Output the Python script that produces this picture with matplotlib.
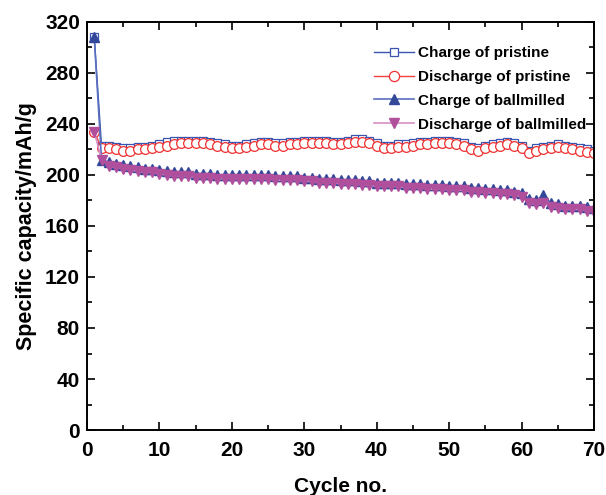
import numpy as np
import matplotlib
matplotlib.use('Agg')
import matplotlib.pyplot as plt
from matplotlib.ticker import MultipleLocator

plt.rcParams['font.family'] = ['Liberation Sans', 'DejaVu Sans']
plt.rcParams['font.weight'] = 'bold'

cycles = list(range(1, 71))

dis_pristine = [234, 221, 221, 220, 219, 219, 220, 220, 221, 222,
                223, 224, 225, 225, 225, 225, 224, 223, 222, 221,
                221, 222, 223, 224, 224, 223, 223, 224, 224, 225,
                225, 225, 225, 224, 224, 225, 226, 226, 225, 223,
                221, 221, 222, 222, 223, 224, 224, 225, 225, 225,
                224, 223, 220, 219, 221, 222, 223, 224, 223, 221,
                217, 219, 220, 221, 222, 221, 220, 219, 218, 217]

chg_pristine = [308, 223, 223, 222, 221, 221, 222, 222, 223, 224,
                226, 227, 227, 227, 227, 227, 226, 225, 224, 223,
                223, 224, 225, 226, 226, 225, 225, 226, 226, 227,
                227, 227, 227, 226, 226, 227, 228, 228, 227, 225,
                223, 223, 224, 224, 225, 226, 226, 227, 227, 227,
                226, 225, 222, 221, 223, 224, 225, 226, 225, 223,
                219, 221, 222, 223, 224, 223, 222, 221, 220, 219]

chg_ball = [308, 212, 210, 209, 208, 207, 206, 205, 205, 204,
            203, 202, 202, 202, 201, 201, 201, 200, 200, 200,
            200, 200, 200, 200, 200, 199, 199, 199, 199, 198,
            198, 197, 197, 197, 196, 196, 196, 195, 195, 194,
            194, 194, 194, 193, 193, 193, 192, 192, 192, 191,
            191, 191, 190, 190, 189, 189, 188, 188, 187, 186,
            181, 180, 184, 178, 177, 176, 176, 176, 175, 174]

dis_ball = [234, 212, 207, 206, 205, 204, 203, 202, 202, 201,
            200, 199, 199, 199, 198, 198, 198, 197, 197, 197,
            197, 197, 197, 197, 197, 196, 196, 196, 196, 195,
            195, 194, 194, 194, 193, 193, 193, 192, 192, 191,
            191, 191, 191, 190, 190, 190, 189, 189, 189, 188,
            188, 188, 187, 187, 186, 186, 185, 185, 184, 183,
            178, 177, 178, 175, 174, 173, 173, 173, 172, 171]

fig = plt.figure(figsize=(6.06, 4.95), dpi=100)
ax = fig.add_axes([0.1436, 0.1313, 0.8366, 0.8243])

ax.plot(cycles, chg_pristine, '-s', color='#3a55b0', mfc='white', mec='#3a55b0',
        ms=6, lw=1, mew=0.9, label='Charge of pristine')
ax.plot(cycles, dis_pristine, '-o', color='#f04040', mfc='white', mec='#f03030',
        ms=7, lw=1, mew=0.9, label='Discharge of pristine')
ax.plot(cycles, chg_ball, '-^', color='#5a6fc0', mfc='#34489a', mec='#34489a',
        ms=7, lw=1.2, label='Charge of ballmilled')
ax.plot(cycles, dis_ball, '-v', color='#d890c8', mfc='#b04f9c', mec='#b04f9c',
        ms=7.5, lw=1.2, label='Discharge of ballmilled')

ax.set_xlim(0, 70)
ax.set_ylim(0, 320)
ax.xaxis.set_major_locator(MultipleLocator(10))
ax.xaxis.set_minor_locator(MultipleLocator(5))
ax.yaxis.set_major_locator(MultipleLocator(40))
ax.yaxis.set_minor_locator(MultipleLocator(20))
ax.tick_params(which='both', direction='in', top=True, right=True, labelsize=15, width=1.2)
ax.tick_params(which='major', length=6)
ax.tick_params(which='minor', length=3.5)
ax.tick_params(axis='x', pad=8)
ax.tick_params(axis='y', pad=5)
for s in ax.spines.values():
    s.set_linewidth(1.4)

ax.set_xlabel('Cycle no.', fontsize=15, fontweight='bold', labelpad=12)
ax.set_ylabel('Specific capacity/mAh/g', fontsize=15.5, fontweight='bold', labelpad=6)

leg = ax.legend(loc='upper right', bbox_to_anchor=(1.012, 0.975), frameon=False,
                fontsize=11, handlelength=2.6, labelspacing=0.65, handletextpad=0.3,
                markerscale=1.05)
for t in leg.get_texts():
    t.set_fontweight('bold')

fig.savefig('out.png', dpi=100)
